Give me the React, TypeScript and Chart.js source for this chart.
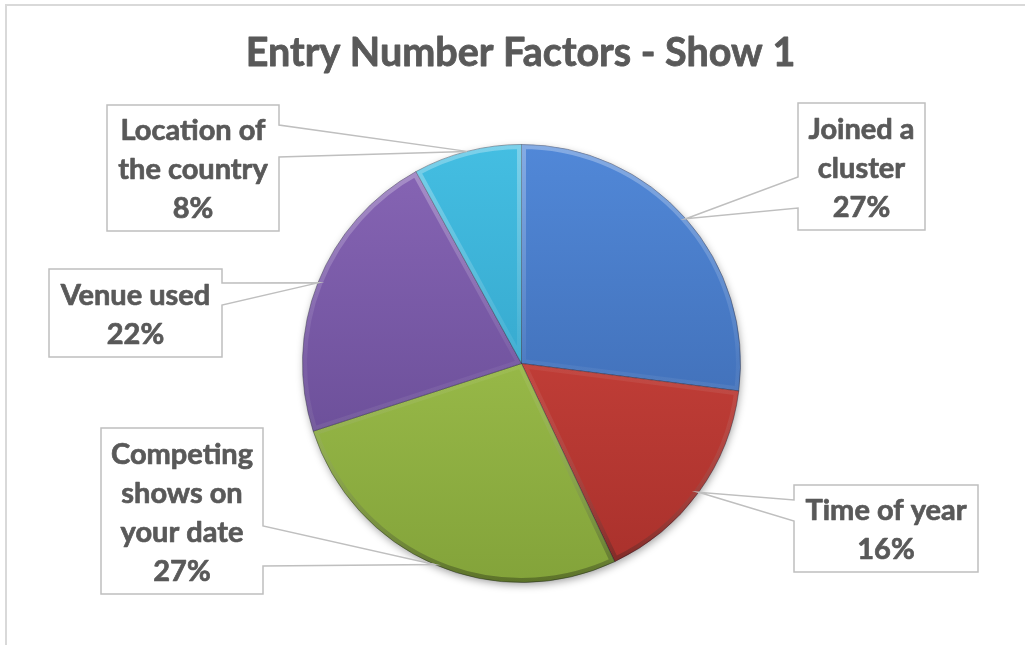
import React, { useEffect, useRef } from "react";
import { Chart, registerables } from "chart.js";

Chart.register(...registerables);

// ---- data ----
const titleText = "Entry Number Factors - Show 1";
const categories: string[][] = [
  ["Joined a", "cluster"],
  ["Time of year"],
  ["Competing", "shows on", "your date"],
  ["Venue used"],
  ["Location of", "the country"],
];
const values = [27, 16, 27, 22, 8];
const sliceLight = ["#5188d8", "#d64a42", "#abcd55", "#8866b6", "#44bee2"];
const sliceDark = ["#3862a6", "#a8302b", "#83a33a", "#5f458c", "#2b97bd"];

// ---- layout for callout boxes (positions only) ----
const callouts = [
  { x: 798, y: 103, w: 127, h: 127, side: "left", b1: 74, b2: 105 },
  { x: 794, y: 485, w: 184, h: 87, side: "left", b1: 15, b2: 36 },
  { x: 101, y: 428, w: 162, h: 166, side: "right", b1: 98, b2: 138 },
  { x: 49, y: 269, w: 173, h: 88, side: "right", b1: 14, b2: 36 },
  { x: 107, y: 105, w: 172, h: 126, side: "right", b1: 20, b2: 52 },
];

const FONT = "Lato, 'Open Sans', sans-serif";
const TEXT_COLOR = "#595959";

const piePlugin = {
  id: "pieDecor",
  beforeDatasetsDraw(chart: any) {
    const meta = chart.getDatasetMeta(0);
    if (!meta.data.length) return;
    const { x, y, outerRadius } = meta.data[0].getProps(["x", "y", "outerRadius"], true);
    const ctx = chart.ctx;
    ctx.save();
    ctx.shadowColor = "rgba(0,0,0,0.4)";
    ctx.shadowBlur = 8;
    ctx.shadowOffsetX = 1;
    ctx.shadowOffsetY = 3;
    ctx.beginPath();
    ctx.arc(x, y, outerRadius - 1, 0, Math.PI * 2);
    ctx.fillStyle = "#ffffff";
    ctx.fill();
    ctx.restore();
  },
  afterDatasetsDraw(chart: any) {
    const ctx = chart.ctx;
    const meta = chart.getDatasetMeta(0);
    // bevel
    meta.data.forEach((arc: any) => {
      const { x, y, startAngle, endAngle, outerRadius } = arc.getProps(
        ["x", "y", "startAngle", "endAngle", "outerRadius"],
        true
      );
      ctx.save();
      ctx.beginPath();
      ctx.moveTo(x, y);
      ctx.arc(x, y, outerRadius, startAngle, endAngle);
      ctx.closePath();
      ctx.clip();
      const g = ctx.createLinearGradient(0, y - outerRadius, 0, y + outerRadius);
      g.addColorStop(0, "rgba(255,255,255,0.3)");
      g.addColorStop(0.5, "rgba(255,255,255,0.05)");
      g.addColorStop(1, "rgba(0,0,0,0.3)");
      ctx.strokeStyle = g;
      ctx.lineWidth = 9;
      ctx.lineJoin = "round";
      ctx.stroke();
      ctx.restore();
    });
    // callouts
    const total = values.reduce((a, b) => a + b, 0);
    meta.data.forEach((arc: any, i: number) => {
      const c = callouts[i];
      if (!c) return;
      const { x, y, startAngle, endAngle, outerRadius } = arc.getProps(
        ["x", "y", "startAngle", "endAngle", "outerRadius"],
        true
      );
      const mid = (startAngle + endAngle) / 2;
      const tx = x + Math.cos(mid) * outerRadius;
      const ty = y + Math.sin(mid) * outerRadius;
      const L = c.x, T = c.y, R = c.x + c.w, B = c.y + c.h;
      ctx.save();
      ctx.beginPath();
      if (c.side === "left") {
        ctx.moveTo(L, T);
        ctx.lineTo(R, T);
        ctx.lineTo(R, B);
        ctx.lineTo(L, B);
        ctx.lineTo(L, T + c.b2);
        ctx.lineTo(tx, ty);
        ctx.lineTo(L, T + c.b1);
        ctx.closePath();
      } else {
        ctx.moveTo(L, T);
        ctx.lineTo(R, T);
        ctx.lineTo(R, T + c.b1);
        ctx.lineTo(tx, ty);
        ctx.lineTo(R, T + c.b2);
        ctx.lineTo(R, B);
        ctx.lineTo(L, B);
        ctx.closePath();
      }
      ctx.fillStyle = "#ffffff";
      ctx.fill();
      ctx.strokeStyle = "#bfbfbf";
      ctx.lineWidth = 1.5;
      ctx.lineJoin = "miter";
      ctx.stroke();
      const lines = [...categories[i], Math.round((values[i] / total) * 100) + "%"];
      ctx.fillStyle = TEXT_COLOR;
      ctx.strokeStyle = TEXT_COLOR;
      ctx.lineWidth = 0.7;
      ctx.lineJoin = "round";
      ctx.font = `bold 29px ${FONT}`;
      ctx.textAlign = "center";
      ctx.textBaseline = "middle";
      const lh = 39;
      const cx = L + c.w / 2;
      const cy = T + c.h / 2 + 2;
      lines.forEach((ln, k) => {
        const yy = cy + (k - (lines.length - 1) / 2) * lh;
        ctx.fillText(ln, cx, yy);
        ctx.strokeText(ln, cx, yy);
      });
      ctx.restore();
    });
  },
  afterDraw(chart: any) {
    const ctx = chart.ctx;
    ctx.save();
    ctx.fillStyle = TEXT_COLOR;
    ctx.strokeStyle = TEXT_COLOR;
    ctx.lineWidth = 0.8;
    ctx.lineJoin = "round";
    ctx.font = `bold 39.5px ${FONT}`;
    ctx.textAlign = "center";
    ctx.textBaseline = "middle";
    ctx.fillText(titleText, 520.5, 53);
    ctx.strokeText(titleText, 520.5, 53);
    ctx.restore();
  },
};

export default function App() {
  const ref = useRef<HTMLCanvasElement>(null);
  useEffect(() => {
    const canvas = ref.current;
    if (!canvas) return;
    const chart = new Chart(canvas, {
      type: "pie",
      data: {
        labels: categories.map((c) => c.join(" ")),
        datasets: [
          {
            data: values,
            backgroundColor: (ctx: any) => {
              const i = ctx.dataIndex ?? 0;
              const area = ctx.chart.chartArea;
              if (!area) return sliceLight[i];
              const g = ctx.chart.ctx.createLinearGradient(0, area.top, 0, area.bottom);
              g.addColorStop(0, sliceLight[i]);
              g.addColorStop(1, sliceDark[i]);
              return g;
            },
            borderColor: "rgba(20,20,40,0.4)",
            borderWidth: 1,
          },
        ],
      },
      options: {
        responsive: false,
        animation: false,
        rotation: 0,
        layout: { padding: { top: 143, bottom: 61, left: 302, right: 284 } },
        plugins: {
          legend: { display: false },
          tooltip: { enabled: false },
          title: { display: false },
        },
      },
      plugins: [piePlugin],
    });
    return () => chart.destroy();
  }, []);

  return (
    <div
      style={{
        position: "fixed",
        left: 0,
        top: 0,
        width: 1025,
        height: 645,
        overflow: "hidden",
        background: "#ffffff",
      }}
    >
      <div
        style={{
          position: "absolute",
          left: 5,
          top: 4,
          width: 1100,
          height: 700,
          border: "2px solid #d9d9d9",
          boxSizing: "border-box",
        }}
      />
      <canvas
        ref={ref}
        width={1025}
        height={645}
        style={{ position: "absolute", left: 0, top: 0 }}
      />
    </div>
  );
}
